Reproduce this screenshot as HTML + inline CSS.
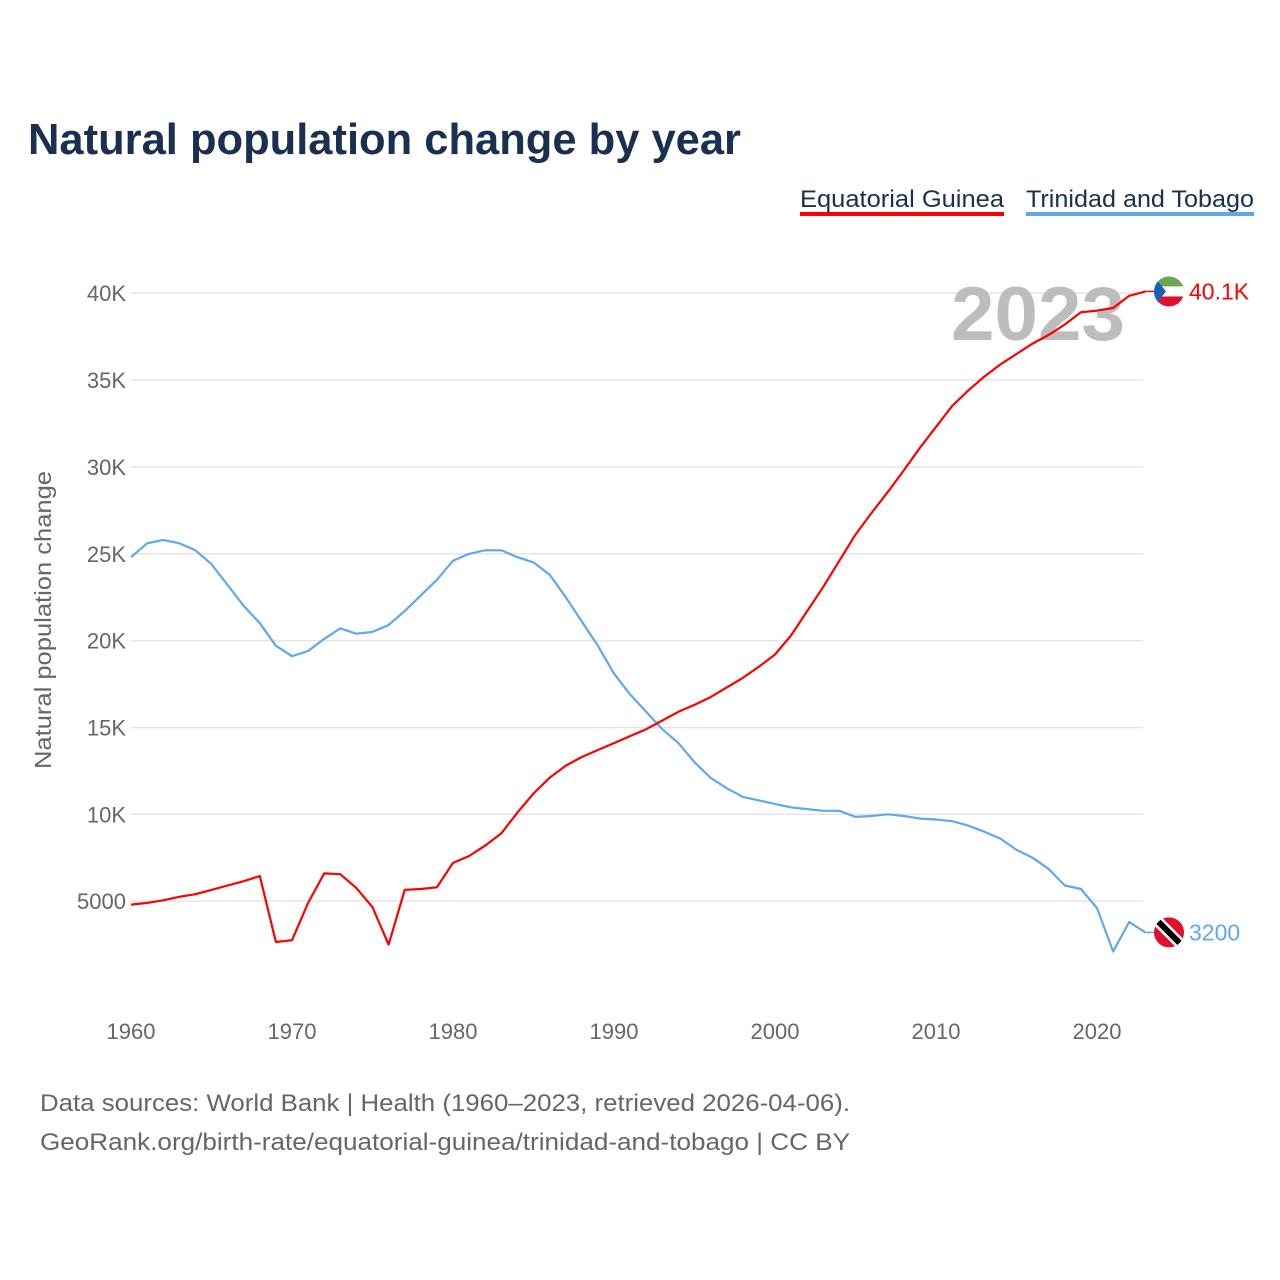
<!DOCTYPE html>
<html><head><meta charset="utf-8"><style>
html,body{margin:0;padding:0;background:#fff;}
svg{display:block;font-family:"Liberation Sans",sans-serif;}
</style></head><body>
<svg id="chart" width="1280" height="1280" viewBox="0 0 1280 1280">
<text x="28" y="154" font-size="44" font-weight="bold" fill="#1b3050" textLength="713" lengthAdjust="spacingAndGlyphs">Natural population change by year</text>
<g>
<text x="800" y="207" font-size="24" fill="#1b3050" textLength="204" lengthAdjust="spacingAndGlyphs">Equatorial Guinea</text>
<rect x="800" y="212" width="204" height="4" fill="#ff0000"/>
</g>
<g>
<text x="1026" y="207" font-size="24" fill="#1b3050" textLength="228" lengthAdjust="spacingAndGlyphs">Trinidad and Tobago</text>
<rect x="1026" y="212" width="228" height="4" fill="#5fa8ee"/>
</g>
<g id="grid"></g>
<g id="yticks"></g>
<g id="xticks"></g>
<text transform="translate(51,620) rotate(-90)" text-anchor="middle" font-size="23" fill="#666" textLength="298" lengthAdjust="spacingAndGlyphs">Natural population change</text>
<text x="1038" y="340" text-anchor="middle" font-size="76" font-weight="bold" fill="#bdbdbd" textLength="174" lengthAdjust="spacingAndGlyphs">2023</text>
<g id="series"></g>
<g id="ends"></g>
<text x="40" y="1111" font-size="24" fill="#666" textLength="810" lengthAdjust="spacingAndGlyphs">Data sources: World Bank | Health (1960–2023, retrieved 2026-04-06).</text>
<text x="40" y="1150" font-size="24" fill="#666" textLength="810" lengthAdjust="spacingAndGlyphs">GeoRank.org/birth-rate/equatorial-guinea/trinidad-and-tobago | CC BY</text>
</svg>
<script>
const years = [];
for (let y = 1960; y <= 2023; y++) years.push(y);
const guinea = [4.8,4.9,5.05,5.25,5.4,5.65,5.9,6.15,6.45,2.65,2.75,4.9,6.6,6.55,5.75,4.65,2.5,5.65,5.7,5.8,7.2,7.6,8.2,8.9,10.1,11.2,12.1,12.8,13.3,13.7,14.1,14.5,14.9,15.4,15.9,16.3,16.75,17.3,17.85,18.5,19.2,20.3,21.7,23.1,24.6,26.1,27.35,28.55,29.8,31.1,32.3,33.5,34.4,35.2,35.9,36.5,37.1,37.6,38.2,38.9,39.0,39.15,39.85,40.1];
const trinidad = [24.8,25.6,25.8,25.6,25.2,24.4,23.2,22.0,21.0,19.7,19.1,19.4,20.1,20.7,20.4,20.5,20.9,21.7,22.6,23.5,24.6,25.0,25.2,25.2,24.8,24.5,23.8,22.5,21.1,19.7,18.1,16.9,15.9,14.9,14.1,13.0,12.1,11.5,11.0,10.8,10.6,10.4,10.3,10.2,10.2,9.85,9.9,10.0,9.9,9.75,9.7,9.6,9.35,9.0,8.6,7.95,7.5,6.85,5.9,5.7,4.6,2.1,3.8,3.2];
const yTickVals = [5,10,15,20,25,30,35,40];
const yTickLabels = ["5000","10K","15K","20K","25K","30K","35K","40K"];
const xTickVals = [1960,1970,1980,1990,2000,2010,2020];
const endLabels = ["40.1K","3200"];

const NS = "http://www.w3.org/2000/svg";
const X = yr => 131 + (yr - 1960) * 16.1;
const Y = v => 988 - v * 17.37;
function mk(tag, attrs, parent) {
  const e = document.createElementNS(NS, tag);
  for (const k in attrs) e.setAttribute(k, attrs[k]);
  parent.appendChild(e);
  return e;
}
const grid = document.getElementById('grid');
const yt = document.getElementById('yticks');
yTickVals.forEach((v, i) => {
  const l = mk('line', {x1: 131, x2: 1143, y1: Y(v), y2: Y(v), stroke: '#e6e6e6', 'stroke-width': 1.5}, grid);
  
  
  const t = mk('text', {x: 126, y: Y(v) + 8, 'text-anchor': 'end', 'font-size': 22, fill: '#666'}, yt);
  t.textContent = yTickLabels[i];
  
  
});
const xt = document.getElementById('xticks');
xTickVals.forEach(v => {
  const t = mk('text', {x: X(v), y: 1039, 'text-anchor': 'middle', 'font-size': 22, fill: '#666'}, xt);
  t.textContent = v;
  
  
});
const ser = document.getElementById('series');
function line(vals, color, name) {
  const d = vals.map((v, i) => (i ? 'L' : 'M') + X(years[i]).toFixed(1) + ',' + Y(v).toFixed(1)).join('');
  const p = mk('path', {d: d, fill: 'none', stroke: color, 'stroke-width': 2.2, 'stroke-linejoin': 'round'}, ser);
  
  
}
line(trinidad, '#5fa8ee', 'line-trinidad-and-tobago');
line(guinea, '#ff0000', 'line-equatorial-guinea');

const ends = document.getElementById('ends');
function flagEnd(vals, color, label, kind) {
  const last = vals[vals.length - 1];
  const cy = Y(last), cx = 1169;
  mk('line', {x1: X(2023), x2: cx - 15, y1: cy, y2: cy, stroke: color, 'stroke-width': 1.5}, ends);
  const g = mk('g', {}, ends);
  
  
  const cid = 'clip-' + kind;
  const cp = mk('clipPath', {id: cid}, g);
  mk('circle', {cx: cx, cy: cy, r: 15}, cp);
  const f = mk('g', {'clip-path': 'url(#' + cid + ')'}, g);
  if (kind === 'gq') {
    mk('rect', {x: cx - 15, y: cy - 15, width: 30, height: 10, fill: '#6aa84f'}, f);
    mk('rect', {x: cx - 15, y: cy - 5, width: 30, height: 10, fill: '#fff'}, f);
    mk('rect', {x: cx - 15, y: cy + 5, width: 30, height: 10, fill: '#e0102f'}, f);
    mk('polygon', {points: (cx - 15) + ',' + (cy - 15) + ' ' + (cx - 3) + ',' + cy + ' ' + (cx - 15) + ',' + (cy + 15), fill: '#1a5fb4'}, f);
  } else {
    mk('rect', {x: cx - 15, y: cy - 15, width: 30, height: 30, fill: '#e0102f'}, f);
    mk('line', {x1: cx - 15, y1: cy - 15, x2: cx + 15, y2: cy + 15, stroke: '#fff', 'stroke-width': 11}, f);
    mk('line', {x1: cx - 15, y1: cy - 15, x2: cx + 15, y2: cy + 15, stroke: '#000', 'stroke-width': 6}, f);
  }
  const t = mk('text', {x: 1189, y: cy + 8, 'font-size': 23, fill: color}, ends);
  t.textContent = label;
  
  
}
flagEnd(guinea, '#ff0000', endLabels[0], 'gq');
flagEnd(trinidad, '#5fa8ee', endLabels[1], 'tt');
</script>
</body></html>
